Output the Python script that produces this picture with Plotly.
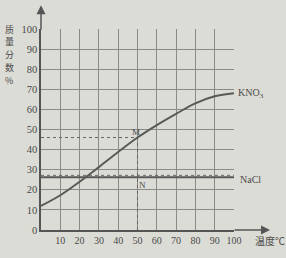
import plotly.graph_objects as go

# data
temps = [0, 10, 20, 30, 40, 50, 60, 70, 80, 90, 100]
kno3 = [12, 17.3, 24, 31.3, 38.8, 46, 52.2, 57.8, 63, 66.5, 68]
nacl_x = [0, 100]
nacl_y = [26.3, 26.3]
ref_y = 27.2           # dashed line just above NaCl
m_point = (50, 46)     # M
n_point = (50, 26.3)   # N
x_ticks = [10, 20, 30, 40, 50, 60, 70, 80, 90, 100]
y_ticks = [0, 10, 20, 30, 40, 50, 60, 70, 80, 90, 100]
y_title_chars = ['质', '量', '分', '数', '%']

W, H = 286, 258
L, R, T, B = 41, 52, 29, 26
PW, PH = W - L - R, H - T - B

def px(x):
    return (x - L) / PW

def py(y):
    return (H - B - y) / PH

bg = '#dcdcd7'
grid = '#8a8a88'
ink = '#4a4a48'
serif = 'Liberation Serif, Times New Roman, serif'

fig = go.Figure()
# dashed guides
fig.add_trace(go.Scatter(x=[0, m_point[0]], y=[m_point[1], m_point[1]], mode='lines',
                         line=dict(color='#666', width=1, dash='dot'), hoverinfo='skip'))
fig.add_trace(go.Scatter(x=[m_point[0], m_point[0]], y=[0, m_point[1]], mode='lines',
                         line=dict(color='#666', width=1, dash='dot'), hoverinfo='skip'))
fig.add_trace(go.Scatter(x=nacl_x, y=[ref_y, ref_y], mode='lines',
                         line=dict(color='#666', width=1, dash='dot'), hoverinfo='skip'))
# NaCl
fig.add_trace(go.Scatter(x=nacl_x, y=nacl_y, mode='lines',
                         line=dict(color='#595957', width=2), hoverinfo='skip'))
# KNO3
fig.add_trace(go.Scatter(x=temps, y=kno3, mode='lines', line_shape='spline',
                         line=dict(color='#595957', width=2), hoverinfo='skip'))

ann = []
ann.append(dict(x=temps[-1], y=kno3[-1], xref='x', yref='y', text='KNO<sub>3</sub>',
                showarrow=False, xanchor='left', yanchor='middle', xshift=2,
                font=dict(family=serif, size=10, color=ink)))
ann.append(dict(x=nacl_x[-1], y=nacl_y[-1], xref='x', yref='y', text='NaCl',
                showarrow=False, xanchor='left', yanchor='middle', xshift=4, yshift=-2,
                font=dict(family=serif, size=10, color=ink)))
ann.append(dict(x=m_point[0], y=m_point[1], xref='x', yref='y', text='M',
                showarrow=False, xanchor='center', yanchor='middle', xshift=-2, yshift=6,
                font=dict(family=serif, size=9, color=ink)))
ann.append(dict(x=n_point[0], y=n_point[1], xref='x', yref='y', text='N',
                showarrow=False, xanchor='center', yanchor='middle', xshift=5, yshift=-8,
                font=dict(family=serif, size=9, color=ink)))
# y title, one character per line
for i, ch in enumerate(y_title_chars):
    ann.append(dict(x=px(9), y=py(29 + 13 * i), xref='paper', yref='paper', text=ch,
                    showarrow=False, xanchor='center', yanchor='middle',
                    font=dict(family='Noto Sans CJK SC', size=9, color=ink)))
# x title
ann.append(dict(x=px(253), y=py(243), xref='paper', yref='paper', text='温度℃',
                showarrow=False, xanchor='left', yanchor='middle',
                font=dict(family='Noto Sans CJK SC', size=10, color=ink)))
# axis arrows
ann.append(dict(x=0, y=py(5), xref='x', yref='paper', ax=0, ay=26, axref='pixel', ayref='pixel',
                text='', showarrow=True, arrowhead=2, arrowsize=1.2, arrowwidth=1.5, arrowcolor='#555'))
ann.append(dict(x=px(270), y=0, xref='paper', yref='y', ax=-37, ay=0,
                text='', showarrow=True, arrowhead=2, arrowsize=1.2, arrowwidth=1.5, arrowcolor='#555'))

fig.update_layout(
    width=W, height=H, margin=dict(l=L, r=R, t=T, b=B),
    paper_bgcolor=bg, plot_bgcolor=bg, showlegend=False,
    annotations=ann,
    xaxis=dict(range=[0, 100], tickvals=x_ticks, showgrid=True, gridcolor=grid, gridwidth=1,
               zeroline=False, showline=True, linecolor='#555', linewidth=1.5,
               ticks='', tickfont=dict(family=serif, size=10, color=ink), fixedrange=True),
    yaxis=dict(range=[0, 100], tickvals=y_ticks, showgrid=True, gridcolor=grid, gridwidth=1,
               zeroline=False, showline=True, linecolor='#555', linewidth=1.5,
               ticks='', tickfont=dict(family=serif, size=10.5, color=ink), fixedrange=True),
)
fig.write_html('out.html')
